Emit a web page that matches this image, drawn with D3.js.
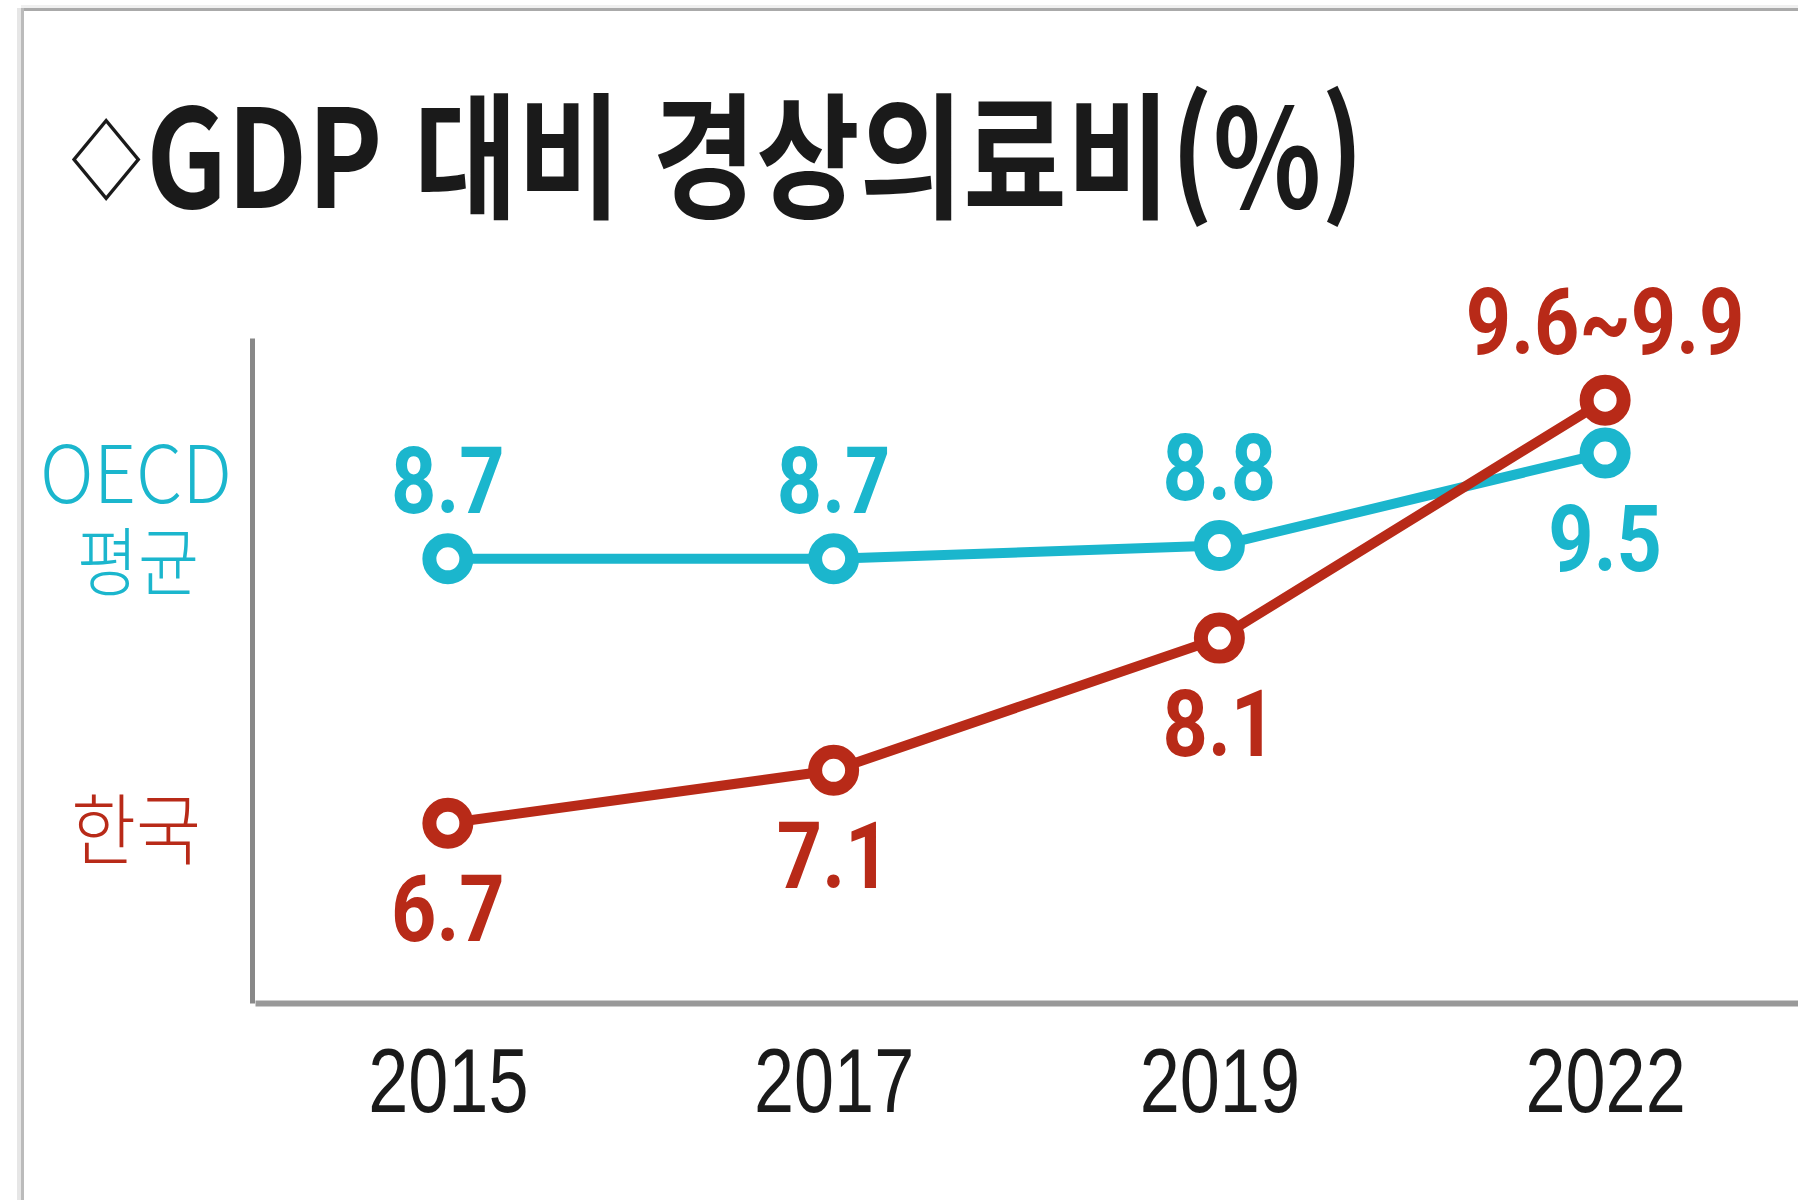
<!DOCTYPE html>
<html lang="ko">
<head>
  <meta charset="UTF-8">
  <title>GDP 대비 경상의료비</title>
  <script src="https://d3js.org/d3.v7.min.js"></script>
  <style>
    body { margin: 0; background: #fff; }
    svg { display: block; }
    .title { font-family: "Noto Sans CJK KR", sans-serif; font-weight: 700; fill: #1a1a1a; }
    .legend-label { font-family: "Noto Sans CJK KR", sans-serif; font-weight: 300; }
    .value-label { font-family: Roboto, "Liberation Sans", sans-serif; font-weight: 700; }
    .x-axis text { font-family: "Liberation Sans", Arial, sans-serif; font-size: 90px; fill: #1a1a1a; }
  </style>
</head>
<body>
<svg id="chart" width="1798" height="1200"></svg>
<script>
  // data
  const years = ["2015", "2017", "2019", "2022"];
  const oecdValues = [8.7, 8.7, 8.8, 9.5];
  const koreaValues = [6.7, 7.1, 8.1, 9.9];
  const oecdLabels = ["8.7", "8.7", "8.8", "9.5"];
  const koreaLabels = ["6.7", "7.1", "8.1", "9.6~9.9"];
  const oecdLabelSide = ["above", "above", "above", "below"];
  const koreaLabelSide = ["below", "below", "below", "above"];

  const cyan = "#1bb6cd";
  const red = "#b82a18";

  const svg = d3.select("#chart");

  // frame
  svg.append("rect").attr("x", 21).attr("y", 5).attr("width", 1777).attr("height", 3).attr("fill", "#f0f0f0");
  svg.append("rect").attr("x", 21).attr("y", 8).attr("width", 1777).attr("height", 3).attr("fill", "#aaa");
  svg.append("rect").attr("x", 17).attr("y", 8).attr("width", 4).attr("height", 1192).attr("fill", "#e6e6e6");
  svg.append("rect").attr("x", 21).attr("y", 8).attr("width", 3).attr("height", 1192).attr("fill", "#bbb");

  // scales
  const x = d3.scalePoint().domain(years).range([255, 1798]).padding(0.5);
  const y = d3.scaleLinear().domain([5.34, 10.37]).range([1003, 338]);

  // title, squeezed to the reference width
  const title = svg.append("text")
    .attr("class", "title")
    .style("font-size", "136px");
  title.append("tspan").style("font-size", "85px").attr("dy", -16).text("◇");
  title.append("tspan").attr("dy", 16).attr("dx", 6).text("GDP 대비 경상의료비(%)");
  const tLen = title.node().getComputedTextLength();
  title.attr("transform", `translate(71,208) scale(${1288 / tLen},1)`);

  // axes
  const xAxis = svg.append("g")
    .attr("class", "x-axis")
    .attr("transform", "translate(0,1003)")
    .call(d3.axisBottom(x).tickSize(0).tickSizeOuter(0));
  xAxis.select(".domain").attr("stroke", "#999").attr("stroke-width", 6);
  xAxis.selectAll("text")
    .attr("y", 109).attr("dy", null)
    .attr("transform", "scale(0.8,1)");

  const yAxis = svg.append("g")
    .attr("transform", "translate(252,0)")
    .call(d3.axisLeft(y).tickValues([]).tickSizeOuter(0));
  yAxis.select(".domain").attr("stroke", "#888").attr("stroke-width", 5);

  // legend: OECD 평균 as one two-line text, 한국 below
  const oecdLegend = svg.append("text")
    .attr("class", "legend-label")
    .attr("fill", cyan)
    .attr("text-anchor", "middle");
  oecdLegend.append("tspan")
    .attr("x", 136).attr("y", 503)
    .style("font-size", "79px")
    .attr("textLength", 192).attr("lengthAdjust", "spacingAndGlyphs")
    .text("OECD");
  oecdLegend.append("tspan")
    .attr("x", 138).attr("y", 590)
    .style("font-size", "75px")
    .attr("textLength", 122).attr("lengthAdjust", "spacingAndGlyphs")
    .text("평균");

  svg.append("text")
    .attr("class", "legend-label")
    .attr("fill", red)
    .attr("text-anchor", "middle")
    .attr("x", 136).attr("y", 859)
    .style("font-size", "78px")
    .attr("textLength", 130).attr("lengthAdjust", "spacingAndGlyphs")
    .text("한국");

  // series
  const series = [
    { values: oecdValues, labels: oecdLabels, side: oecdLabelSide, color: cyan },
    { values: koreaValues, labels: koreaLabels, side: koreaLabelSide, color: red }
  ];

  const line = d3.line()
    .x((d, i) => x(years[i]))
    .y(d => y(d));

  series.forEach(s => {
    const g = svg.append("g");
    g.append("path")
      .datum(s.values)
      .attr("d", line)
      .attr("fill", "none")
      .attr("stroke", s.color)
      .attr("stroke-width", 10)
      .attr("stroke-linejoin", "round");

    g.selectAll("circle")
      .data(s.values)
      .enter().append("circle")
      .attr("cx", (d, i) => x(years[i]))
      .attr("cy", d => y(d))
      .attr("r", 18.5)
      .attr("fill", "#fff")
      .attr("stroke", s.color)
      .attr("stroke-width", 14);
  });

  // value labels drawn last so they sit over the lines
  series.forEach(s => {
    svg.append("g").selectAll("text")
      .data(s.values)
      .enter().append("text")
      .attr("class", "value-label")
      .attr("fill", s.color)
      .attr("text-anchor", "middle")
      .style("font-size", "92px")
      .attr("transform", (d, i) => {
        const by = s.side[i] === "above" ? y(d) - 46 : y(d) + 118;
        return `translate(${x(years[i])},${by}) scale(0.86,1)`;
      })
      .text((d, i) => s.labels[i]);
  });
</script>
</body>
</html>
